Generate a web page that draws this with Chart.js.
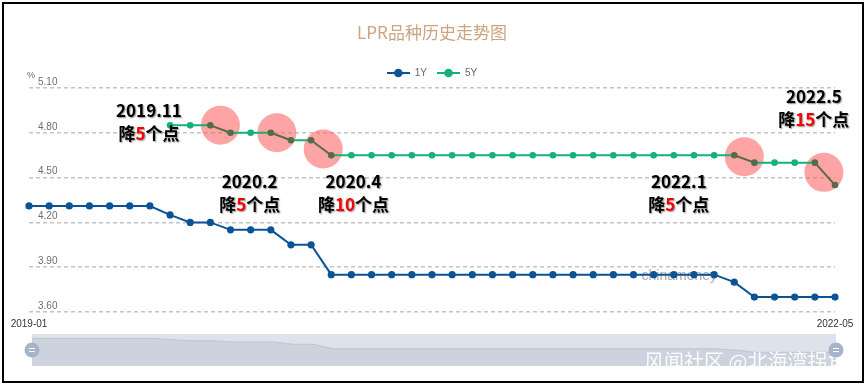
<!DOCTYPE html>
<html>
<head>
<meta charset="utf-8">
<title>LPR品种历史走势图</title>
<script src="https://cdn.jsdelivr.net/npm/chart.js@4.4.1/dist/chart.umd.min.js"></script>
<style>
  html, body { margin: 0; padding: 0; background: #fff; }
  #wrap { position: relative; width: 866px; height: 386px; overflow: hidden; }
  #sliderChart { position: absolute; left: 32px; top: 334px; background: #dde2eb; }
  #mainChart { position: absolute; left: 0; top: 0; }
  #frame { position: absolute; left: 2px; top: 2px; width: 862px; height: 381px; box-sizing: border-box; border: 2px solid #000; pointer-events: none; }
</style>
</head>
<body>
<div id="wrap">
  <canvas id="sliderChart" width="804" height="32"></canvas>
  <canvas id="mainChart" width="866" height="386"></canvas>
  <div id="frame"></div>
</div>
<script>
// 月份
const months = [
    "2019-01", "2019-02", "2019-03", "2019-04", "2019-05", "2019-06", "2019-07", "2019-08",
    "2019-09", "2019-10", "2019-11", "2019-12", "2020-01", "2020-02", "2020-03", "2020-04",
    "2020-05", "2020-06", "2020-07", "2020-08", "2020-09", "2020-10", "2020-11", "2020-12",
    "2021-01", "2021-02", "2021-03", "2021-04", "2021-05", "2021-06", "2021-07", "2021-08",
    "2021-09", "2021-10", "2021-11", "2021-12", "2022-01", "2022-02", "2022-03", "2022-04",
    "2022-05",
];

// 1年期 LPR (%)
const rate1Y = [
    4.31, 4.31, 4.31, 4.31, 4.31, 4.31, 4.31, 4.25,
    4.20, 4.20, 4.15, 4.15, 4.15, 4.05, 4.05, 3.85,
    3.85, 3.85, 3.85, 3.85, 3.85, 3.85, 3.85, 3.85,
    3.85, 3.85, 3.85, 3.85, 3.85, 3.85, 3.85, 3.85,
    3.85, 3.85, 3.85, 3.80, 3.70, 3.70, 3.70, 3.70,
    3.70,
];

// 5年期以上 LPR (%)，2019-08 起才有
const rate5Y = [
    null, null, null, null, null, null, null, 4.85,
    4.85, 4.85, 4.80, 4.80, 4.80, 4.75, 4.75, 4.65,
    4.65, 4.65, 4.65, 4.65, 4.65, 4.65, 4.65, 4.65,
    4.65, 4.65, 4.65, 4.65, 4.65, 4.65, 4.65, 4.65,
    4.65, 4.65, 4.65, 4.65, 4.60, 4.60, 4.60, 4.60,
    4.45,
];

const yTicks = [3.6, 3.9, 4.2, 4.5, 4.8, 5.1];

// 降息标注: 位置用 (月份序号, 利率) 表示
const cutNotes = [
    { date: "2019.11", cut: "5", at: 5.95, level: 4.947 },
    { date: "2020.2", cut: "5", at: 10.95, level: 4.476 },
    { date: "2020.4", cut: "10", at: 16.1, level: 4.476 },
    { date: "2022.1", cut: "5", at: 32.25, level: 4.476 },
    { date: "2022.5", cut: "15", at: 38.95, level: 5.042 },
];
const cutCircles = [
    { at: 9.5, level: 4.85 },
    { at: 12.3, level: 4.80 },
    { at: 14.6, level: 4.692 },
    { at: 35.5, level: 4.64 },
    { at: 39.45, level: 4.535 },
];

const BLUE = "#0c5396";
const GREEN = "#12b279";
const OLIVE = "#566b47";

function legendMarker(color) {
    const c = document.createElement("canvas");
    c.width = 23;
    c.height = 10;
    const g = c.getContext("2d");
    g.strokeStyle = color;
    g.lineWidth = 2;
    g.beginPath();
    g.moveTo(0, 5);
    g.lineTo(23, 5);
    g.stroke();
    g.fillStyle = color;
    g.beginPath();
    g.arc(11.5, 5, 4.3, 0, Math.PI * 2);
    g.fill();
    return c;
}

// 降息段两端的点用深色
const fiveYPointColors = rate5Y.map(function (v, i) {
    const prev = rate5Y[i - 1], next = rate5Y[i + 1];
    const down = (prev != null && v != null && v < prev) || (next != null && v != null && next < v);
    return down ? OLIVE : GREEN;
});

const decorations = {
    id: "decorations",
    beforeDatasetsDraw(chart) {
        const { ctx, scales: { x, y } } = chart;
        ctx.save();
        ctx.font = "14px Arial";
        ctx.fillStyle = "rgba(140,140,140,0.75)";
        ctx.textAlign = "left";
        ctx.textBaseline = "middle";
        ctx.fillText("chinamoney", x.getPixelForValue(30.4), y.getPixelForValue(3.84));

        ctx.fillStyle = "rgba(255,90,90,0.55)";
        cutCircles.forEach(function (c) {
            ctx.beginPath();
            ctx.arc(x.getPixelForValue(c.at), y.getPixelForValue(c.level), 19.5, 0, Math.PI * 2);
            ctx.fill();
        });
        ctx.restore();
    },
    afterDraw(chart) {
        const { ctx, chartArea, scales: { x, y } } = chart;
        ctx.save();
        // 单位
        ctx.font = "9px Arial";
        ctx.fillStyle = "#666";
        ctx.textAlign = "left";
        ctx.textBaseline = "middle";
        ctx.fillText("%", chartArea.left - 2, chartArea.top - 12);

        // 标注文字
        ctx.font = 'bold 17px "Noto Sans CJK SC"';
        ctx.textBaseline = "middle";
        ctx.shadowColor = "rgba(0,0,0,0.45)";
        ctx.shadowBlur = 1.5;
        ctx.shadowOffsetX = 1;
        ctx.shadowOffsetY = 1;
        cutNotes.forEach(function (n) {
            const cx = x.getPixelForValue(n.at);
            const cy = y.getPixelForValue(n.level);
            ctx.textAlign = "center";
            ctx.fillStyle = "#000";
            ctx.fillText(n.date, cx, cy);
            const parts = [["降", "#000"], [n.cut, "#ff0000"], ["个点", "#000"]];
            const total = parts.reduce((s, p) => s + ctx.measureText(p[0]).width, 0);
            let px = cx - total / 2;
            ctx.textAlign = "left";
            parts.forEach(function (p) {
                ctx.fillStyle = p[1];
                ctx.fillText(p[0], px, cy + 23);
                px += ctx.measureText(p[0]).width;
            });
        });
        ctx.shadowColor = "transparent";

        // 水印
        ctx.font = '20px "Noto Sans CJK SC"';
        ctx.fillStyle = "rgba(255,255,255,0.92)";
        ctx.textAlign = "left";
        ctx.textBaseline = "alphabetic";
        ctx.fillText("风闻社区 @北海湾拐角", 644, 369);

        // 缩放条把手
        [chartArea.left + 3, chartArea.right + 1].forEach(function (hx) {
            ctx.fillStyle = "#a5b4ca";
            ctx.beginPath();
            ctx.arc(hx, 350, 7.5, 0, Math.PI * 2);
            ctx.fill();
            ctx.strokeStyle = "#fff";
            ctx.lineWidth = 1.2;
            ctx.beginPath();
            ctx.moveTo(hx - 3, 348.5);
            ctx.lineTo(hx + 3, 348.5);
            ctx.moveTo(hx - 3, 351.5);
            ctx.lineTo(hx + 3, 351.5);
            ctx.stroke();
        });
        ctx.restore();
    },
};

new Chart(document.getElementById("mainChart"), {
    type: "line",
    data: {
        labels: months,
        datasets: [
            {
                label: "1Y",
                data: rate1Y,
                borderColor: BLUE,
                backgroundColor: BLUE,
                borderWidth: 2,
                pointRadius: 3.6,
                pointBorderWidth: 0,
                tension: 0,
            },
            {
                label: "5Y",
                data: rate5Y,
                borderColor: GREEN,
                backgroundColor: GREEN,
                pointBackgroundColor: fiveYPointColors,
                borderWidth: 2,
                pointRadius: 3.3,
                pointBorderWidth: 0,
                tension: 0,
                segment: {
                    borderColor: (c) => (c.p1.parsed.y < c.p0.parsed.y ? OLIVE : GREEN),
                },
            },
        ],
    },
    options: {
        responsive: false,
        animation: false,
        events: [],
        layout: { padding: { left: 29, right: 31, top: 0, bottom: 56 } },
        plugins: {
            title: {
                display: true,
                text: "LPR品种历史走势图",
                color: "#caa57f",
                font: { size: 17, weight: "normal", family: '"Microsoft YaHei", "Noto Sans CJK SC", sans-serif' },
                padding: { top: 22, bottom: 15.6 },
            },
            legend: {
                labels: {
                    usePointStyle: true,
                    pointStyleWidth: 23,
                    boxHeight: 10,
                    padding: 10,
                    color: "#666",
                    font: { size: 10, family: "Arial" },
                    generateLabels: (chart) =>
                        chart.data.datasets.map((ds, i) => ({
                            text: ds.label,
                            pointStyle: legendMarker(ds.borderColor),
                            fillStyle: ds.borderColor,
                            strokeStyle: ds.borderColor,
                            lineWidth: 0,
                            fontColor: "#666",
                            hidden: false,
                            datasetIndex: i,
                        })),
                },
            },
            tooltip: { enabled: false },
        },
        scales: {
            x: {
                offset: false,
                afterFit: (scale) => {
                    scale.height = 18;
                },
                grid: { display: false, drawTicks: false },
                border: { display: false },
                ticks: {
                    autoSkip: false,
                    maxRotation: 0,
                    padding: 6,
                    color: "#333",
                    font: { size: 10, family: "Arial" },
                    callback: (v, i) => (i === 0 || i === months.length - 1 ? months[i] : ""),
                },
            },
            y: {
                min: yTicks[0],
                max: yTicks[yTicks.length - 1],
                afterBuildTicks: (scale) => {
                    scale.ticks = yTicks.map((v) => ({ value: v }));
                },
                afterFit: (scale) => {
                    scale.width = 0;
                },
                grid: { color: "#c4c4c4", lineWidth: 1.5, drawTicks: false },
                border: { display: false, dash: [4, 3] },
                ticks: {
                    mirror: true,
                    padding: 9,
                    labelOffset: -6,
                    color: "#6e6e6e",
                    font: { size: 10, family: "Arial" },
                    callback: (v) => Number(v).toFixed(2),
                },
            },
        },
    },
    plugins: [decorations],
});

// 底部缩放条中的缩略走势
new Chart(document.getElementById("sliderChart"), {
    type: "line",
    data: {
        labels: months,
        datasets: [
            {
                data: rate1Y,
                borderColor: "#bcc5d2",
                borderWidth: 1,
                backgroundColor: "#ccd3de",
                fill: "start",
                pointRadius: 0,
                tension: 0,
            },
        ],
    },
    options: {
        responsive: false,
        animation: false,
        events: [],
        layout: { padding: 0 },
        plugins: { legend: { display: false }, tooltip: { enabled: false } },
        scales: {
            x: { display: false, offset: false },
            y: { display: false, min: 3.1, max: 4.5 },
        },
    },
});
</script>
</body>
</html>
